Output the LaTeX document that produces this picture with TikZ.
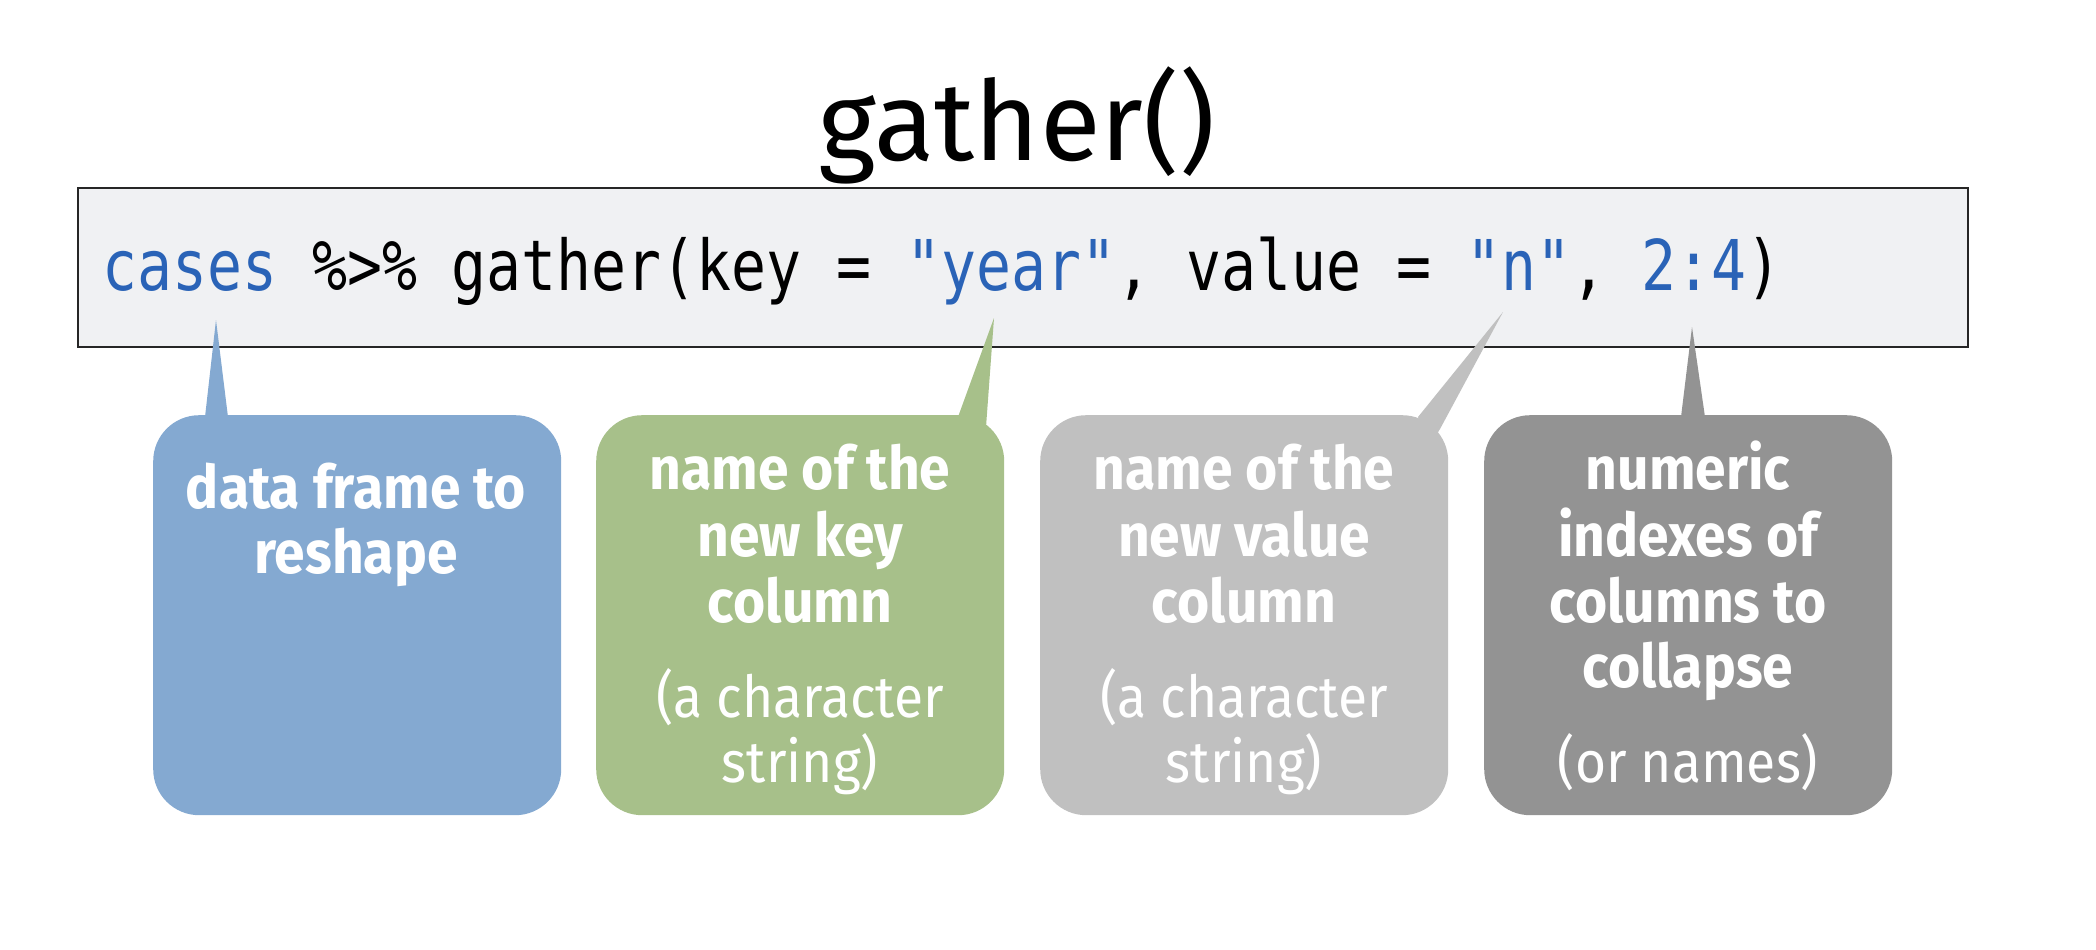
\documentclass[tikz,border=0pt]{standalone}
\usepackage{fontspec}
\setmainfont{Fira Sans}
\newfontfamily\calfont[FakeStretch=0.92]{Fira Sans}
\newfontfamily\codefont[FakeStretch=0.83]{DejaVu Sans Mono}
\usetikzlibrary{calc}
\definecolor{cblue}{RGB}{132,169,209}
\definecolor{cgreen}{RGB}{167,192,138}
\definecolor{clgray}{RGB}{192,192,192}
\definecolor{cdgray}{RGB}{147,147,147}
\definecolor{codeblue}{RGB}{42,99,183}
\definecolor{codebg}{RGB}{240,241,243}
\tikzset{
  callout/.style={rounded corners=46pt, minimum width=408pt, minimum height=400pt, inner sep=0pt, anchor=north west},
  boldline/.style={anchor=base, inner sep=0pt, text=white, font=\calfont\bfseries\fontsize{60}{66}\selectfont},
  regline/.style={anchor=base, inner sep=0pt, text=white, font=\calfont\fontsize{58}{66}\selectfont},
}
\begin{document}
\begin{tikzpicture}[x=1pt,y=-1pt]
\useasboundingbox (0,0) rectangle (2096,950);
% title
\node[anchor=base, inner sep=0pt, font=\fontsize{111}{120}\selectfont] (title) at (1017,160) {gather()};
% code box
\node[draw=black!85, line width=1.5pt, fill=codebg, anchor=north west, minimum width=1890pt, minimum height=159pt, inner sep=0pt] (code) at (77,187) {};
\node[anchor=base west, inner sep=0pt, font=\codefont\fontsize{70}{80}\selectfont] (codetext) at (102,290)
  {\textcolor{codeblue}{cases} \%>\% gather(key = \textcolor{codeblue}{"year"}, value = \textcolor{codeblue}{"n"}, \textcolor{codeblue}{2:4})};
% tips
\coordinate (tip1) at (216,320);
\coordinate (tip2) at (994,318);
\coordinate (tip3) at (1503,312);
\coordinate (tip4) at (1692,327);
% boxes
\node[callout, fill=cblue] (b1) at (153,415) {};
\node[callout, fill=cgreen] (b2) at (596,415) {};
\node[callout, fill=clgray] (b3) at (1040,415) {};
\node[callout, fill=cdgray] (b4) at (1484,415) {};
% tails
\fill[cblue] ($(b1.north west)+(52,2)$) -- (tip1) -- ($(b1.north west)+(75,2)$) -- cycle;
\fill[cgreen] ($(b2.north west)+(362,2)$) -- (tip2) -- ($(b2.north west)+(390,12)$) -- ($(b2.north west)+(380,30)$) -- cycle;
\fill[clgray] ($(b3.north west)+(378,2)$) -- (tip3) -- ($(b3.north west)+(400,14)$) -- ($(b3.north west)+(390,30)$) -- cycle;
\fill[cdgray] ($(b4.north west)+(197,2)$) -- (tip4) -- ($(b4.north west)+(221,2)$) -- cycle;
% texts box 1
\node[boldline] (t11) at (356,508) {data frame to};
\node[boldline] (t12) at (356,573) {reshape};
% box 2
\node[boldline] (t21) at (800,489) {name of the};
\node[boldline] (t22) at (800,556) {new key};
\node[boldline] (t23) at (800,622) {column};
\node[regline] (t24) at (800,717) {(a character};
\node[regline] (t25) at (800,782) {string)};
% box 3
\node[boldline] (t31) at (1244,489) {name of the};
\node[boldline] (t32) at (1244,556) {new value};
\node[boldline] (t33) at (1244,622) {column};
\node[regline] (t34) at (1244,717) {(a character};
\node[regline] (t35) at (1244,782) {string)};
% box 4
\node[boldline] (t41) at (1688,489) {numeric};
\node[boldline] (t42) at (1688,556) {indexes of};
\node[boldline] (t43) at (1688,622) {columns to};
\node[boldline] (t44) at (1688,687) {collapse};
\node[regline] (t45) at (1688,782) {(or names)};
\end{tikzpicture}
\end{document}
